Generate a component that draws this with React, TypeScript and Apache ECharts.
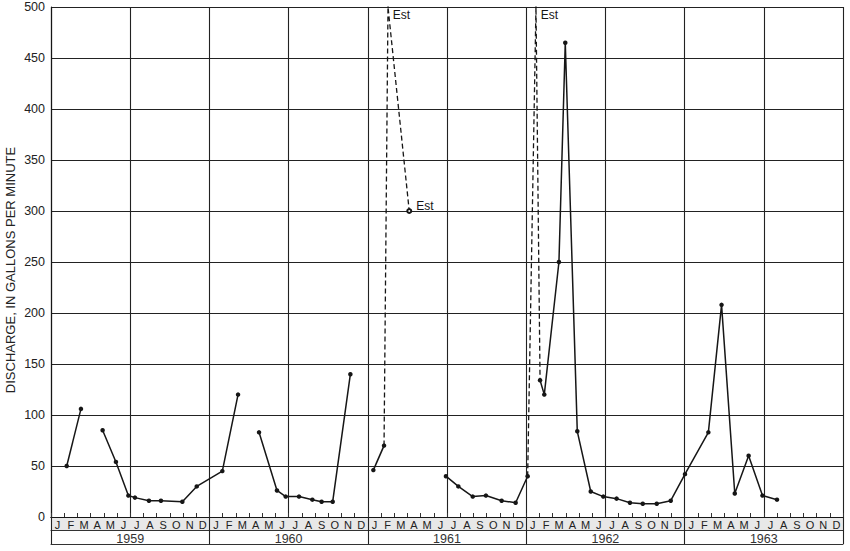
import React, { useEffect, useRef } from "react";
import * as echarts from "echarts";

// ---- data ----
const monthLetters = ["J", "F", "M", "A", "M", "J", "J", "A", "S", "O", "N", "D"];
const years = ["1959", "1960", "1961", "1962", "1963"];
const yTicks = [0, 50, 100, 150, 200, 250, 300, 350, 400, 450, 500];

// measurement time in months since 1 Jan 1959; null = gap in record
const measuredMonths = [
  1.19, 2.27, null,
  3.91, 4.92, 5.86, 6.36, 7.42, 8.33, 9.95, 11.04, 12.98, 14.17, null,
  15.76, 17.12, 17.78, 18.79, 19.8, 20.5, 21.34, 22.68, null,
  24.42, 25.23, null,
  29.92, 30.86, 31.95, 32.95, 34.14, 35.2, 36.11, null,
  37.05, 37.37, 38.48, 38.96, 39.87, 40.89, 41.84, 42.85, 43.86, 44.83, 45.89, 46.95,
  48.03, 49.8, 50.8, 51.8, 52.85, 53.9, 55.0,
];
const measuredGpm = [
  50, 106, null,
  85, 54, 21, 19, 16, 16, 15, 30, 45, 120, null,
  83, 26, 20, 20, 17, 15, 15, 140, null,
  46, 70, null,
  40, 30, 20, 21, 16, 14, 40, null,
  134, 120, 250, 465, 84, 25, 20, 18, 14, 13, 13, 16,
  42, 83, 208, 23, 60, 21, 17,
];

// estimated (dashed) connections
const estMonths = [25.23, 25.53, 27.14, null, 36.11, 36.74, 37.05];
const estGpm = [70, 500, 300, null, 40, 500, 134];
const estLabels = ["", "Est", "Est", null, "", "Est", ""];

// ---- layout / style ----
const W = 850;
const H = 551;
const GRID_LEFT = 51;
const GRID_RIGHT = 7;
const GRID_TOP = 7;
const GRID_BOTTOM = 34;
const INK = "#161616";
const FONT = "'Liberation Sans', Arial, sans-serif";

function splitSegments(xs: (number | null)[], ys: (number | null)[], extra?: (string | null)[]) {
  const segs: any[][] = [];
  let cur: any[] = [];
  xs.forEach((x, i) => {
    const y = ys[i];
    if (x === null || y === null) {
      if (cur.length) segs.push(cur);
      cur = [];
    } else {
      cur.push(extra ? { value: [x, y], tag: extra[i] } : { value: [x, y] });
    }
  });
  if (cur.length) segs.push(cur);
  return segs;
}

export default function App() {
  const ref = useRef<HTMLDivElement>(null);
  useEffect(() => {
    if (!ref.current) return;
    const chart = echarts.init(ref.current, undefined, { renderer: "svg" });

    const monthCats: string[] = [];
    years.forEach(() => monthLetters.forEach((m) => monthCats.push(m)));
    const nMonths = monthCats.length;

    const measuredSeries = splitSegments(measuredMonths, measuredGpm).map((seg) => ({
      type: "line",
      xAxisIndex: 0,
      yAxisIndex: 0,
      data: seg.map((d) => d.value),
      symbol: "circle",
      symbolSize: 4.5,
      showSymbol: true,
      itemStyle: { color: INK },
      lineStyle: { color: INK, width: 1.5 },
      z: 5,
    }));

    const estSeries = splitSegments(estMonths, estGpm, estLabels).map((seg) => ({
      type: "line",
      xAxisIndex: 0,
      yAxisIndex: 0,
      clip: false,
      data: seg.map((d) => {
        const isEst = d.tag === "Est";
        const atTop = d.value[1] >= 500;
        return {
          value: d.value,
          symbol: isEst && !atTop ? "emptyCircle" : "circle",
          symbolSize: isEst && !atTop ? 4 : 0.5,
          label: isEst
            ? {
                show: true,
                formatter: "Est",
                position: "right",
                distance: 4,
                offset: atTop ? [0, 8] : [0, -5],
                color: INK,
                fontSize: 12,
                fontFamily: FONT,
              }
            : { show: false },
        };
      }),
      showSymbol: true,
      itemStyle: { color: INK, borderColor: INK },
      lineStyle: { color: INK, width: 1.3, type: [5, 3] },
      z: 4,
    }));

    const plotW = W - GRID_LEFT - GRID_RIGHT;
    const plotBottom = H - GRID_BOTTOM;

    chart.setOption({
      animation: false,
      backgroundColor: "#ffffff",
      grid: {
        left: GRID_LEFT,
        right: GRID_RIGHT,
        top: GRID_TOP,
        bottom: GRID_BOTTOM,
        containLabel: false,
        outerBoundsMode: "none",
      },
      graphic: [
        {
          type: "rect",
          z: -10,
          silent: true,
          shape: { x: GRID_LEFT, y: plotBottom, width: plotW, height: 13 },
          style: { fill: "#e8e8e8" },
        },
      ],
      xAxis: [
        {
          type: "value",
          position: "bottom",
          min: 0,
          max: nMonths,
          interval: 6,
          axisLine: { show: true, lineStyle: { color: INK, width: 1.2 } },
          axisTick: { show: false },
          axisLabel: { show: false },
          splitLine: { show: true, lineStyle: { color: "#222", width: 1.1 } },
        },
        {
          type: "category",
          position: "bottom",
          data: monthCats,
          boundaryGap: true,
          axisLine: { show: true, lineStyle: { color: INK, width: 1.2 } },
          axisTick: { show: true, inside: true, length: 4, interval: 0, lineStyle: { color: "#333", width: 1 } },
          axisLabel: { show: true, interval: 0, margin: 2, fontSize: 11, color: "#222", fontFamily: FONT },
          splitLine: { show: false },
        },
        {
          type: "category",
          position: "bottom",
          data: years,
          boundaryGap: true,
          axisLine: { show: false },
          axisTick: { show: true, inside: false, length: 27, interval: 0, lineStyle: { color: "#222", width: 1.1 } },
          axisLabel: { show: true, interval: 0, margin: 15, fontSize: 12.5, color: "#333", fontFamily: FONT },
          splitLine: { show: false },
        },
        {
          type: "value",
          position: "bottom",
          min: 0,
          max: nMonths,
          offset: 13,
          axisLine: { show: true, lineStyle: { color: "#333", width: 1 } },
          axisTick: { show: false },
          axisLabel: { show: false },
          splitLine: { show: false },
        },
        {
          type: "value",
          position: "bottom",
          min: 0,
          max: nMonths,
          offset: 27,
          axisLine: { show: true, lineStyle: { color: "#333", width: 1 } },
          axisTick: { show: false },
          axisLabel: { show: false },
          splitLine: { show: false },
        },
      ],
      yAxis: {
        type: "value",
        min: yTicks[0],
        max: yTicks[yTicks.length - 1],
        interval: yTicks[1] - yTicks[0],
        name: "DISCHARGE, IN GALLONS PER MINUTE",
        nameLocation: "middle",
        nameGap: 34,
        nameMoveOverlap: false,
        nameRotate: 90,
        nameTextStyle: { fontSize: 13, color: "#222", fontFamily: FONT, padding: [0, 16, 0, 0] },
        axisLine: { show: true, lineStyle: { color: INK, width: 1.2 } },
        axisTick: { show: false },
        axisLabel: { show: true, margin: 6, fontSize: 12.5, color: "#222", fontFamily: FONT },
        splitLine: { show: true, lineStyle: { color: "#222", width: 1.1 } },
      },
      series: [...measuredSeries, ...estSeries],
    });
    return () => chart.dispose();
  }, []);
  return <div ref={ref} style={{ position: "absolute", left: 0, top: 0, width: W, height: H }} />;
}
